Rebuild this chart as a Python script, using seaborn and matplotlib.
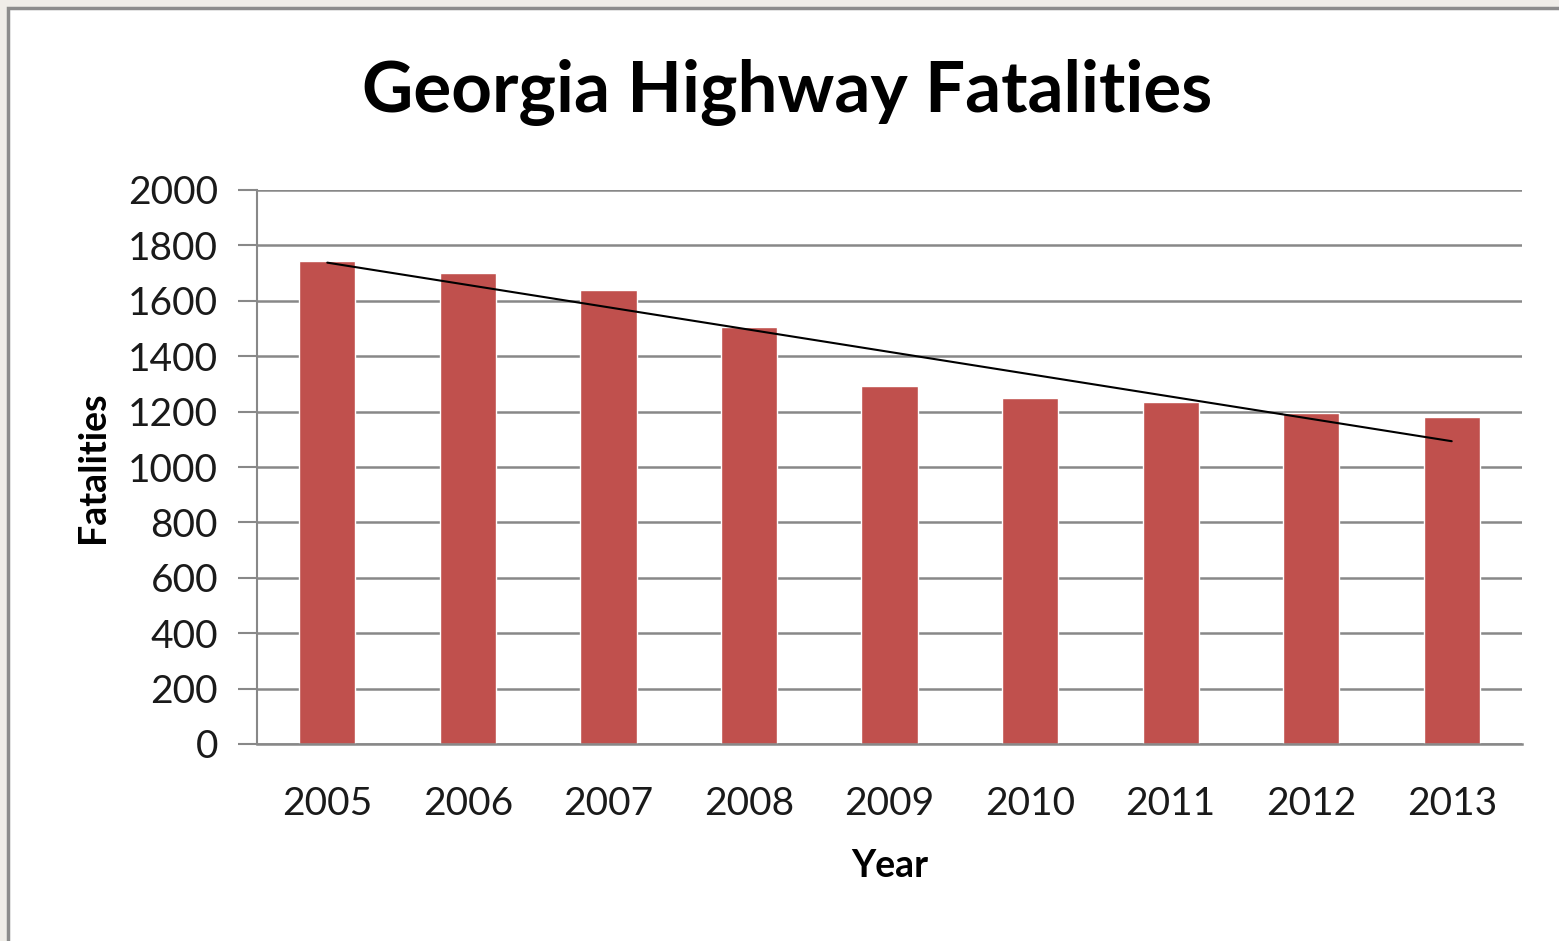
import matplotlib.pyplot as plt
import seaborn as sns
import numpy as np
import pandas as pd
from matplotlib.patches import Rectangle

years = ['2005', '2006', '2007', '2008', '2009', '2010', '2011', '2012', '2013']
fatalities = [1744, 1700, 1639, 1505, 1292, 1249, 1235, 1195, 1180]
y_ticks = [0, 200, 400, 600, 800, 1000, 1200, 1400, 1600, 1800, 2000]

sns.set_style("white")
plt.rcParams['font.family'] = ['Lato', 'DejaVu Sans']

df = pd.DataFrame({'Year': years, 'Fatalities': fatalities})

fig = plt.figure(figsize=(15.59, 9.41), dpi=100)
fig.patch.set_facecolor('#efede8')
# white chart area with the screenshot frame on top/left (cut off right/bottom)
fig.patches.append(Rectangle((8 / 1559, -0.05), 1.1, 1.05 - 8 / 941, transform=fig.transFigure,
                             facecolor='white', edgecolor='#8c8c8c', linewidth=2.5, zorder=-5))

ax = fig.add_axes([257 / 1559, 1 - 744 / 941, (1522 - 257) / 1559, (744 - 190) / 941])
ax.patch.set_alpha(0)
sns.barplot(data=df, x='Year', y='Fatalities', color='#c0504d', width=0.4,
            saturation=1, ax=ax, zorder=2)

# linear trend line
x_idx = np.arange(len(years))
slope, intercept = np.polyfit(x_idx, fatalities, 1)
ax.plot(x_idx, slope * x_idx + intercept, color='black', linewidth=1.5, zorder=3)

ax.set_ylim(0, 2000)
ax.set_xlim(-0.5, len(years) - 0.5)
ax.set_yticks(y_ticks)
ax.set_yticklabels([str(t) for t in y_ticks], fontsize=28, color='#1a1a1a')
ax.yaxis.grid(True, color='#888888', linewidth=1.8, zorder=0)
ax.set_axisbelow(True)

# ticks at category boundaries, labels at centres
ax.set_xticks(x_idx)
ax.set_xticklabels(years, fontsize=28, color='#1a1a1a')
ax.tick_params(axis='x', length=0, pad=30)
ax.set_xticks(np.arange(-0.5, len(years)), minor=True)
ax.tick_params(axis='x', which='minor', length=14, width=1.5, color='#888888', direction='out')
ax.tick_params(axis='y', length=14, width=1.5, color='#888888', direction='out', left=True, pad=14)

for side in ['top', 'right']:
    ax.spines[side].set_visible(False)
ax.spines['left'].set_color('#888888')
ax.spines['left'].set_linewidth(1.5)
ax.spines['bottom'].set_color('#888888')
ax.spines['bottom'].set_linewidth(1.8)

ax.set_xlabel('Year', fontsize=27, fontweight='bold', labelpad=20, color='black')
ax.set_ylabel('Fatalities', fontsize=27, fontweight='bold', labelpad=13, color='black')

fig.text(787 / 1559, 1 - 92 / 941, 'Georgia Highway Fatalities', fontsize=51,
         fontweight='bold', ha='center', va='center', color='black')

plt.savefig('out.png', dpi=100)
